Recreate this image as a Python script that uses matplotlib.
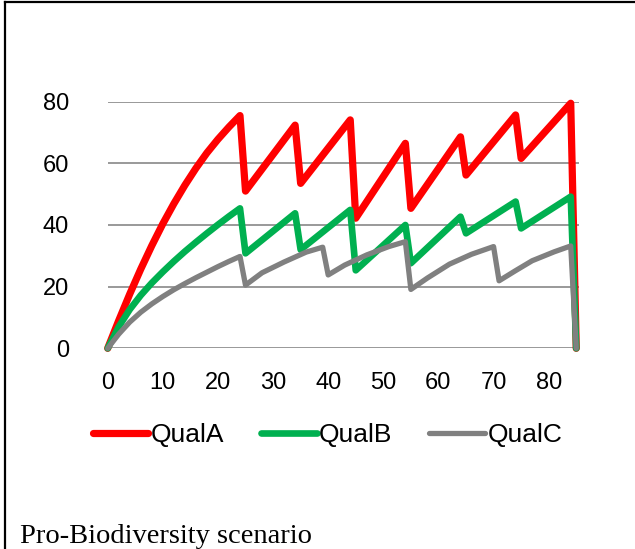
import matplotlib.pyplot as plt
from matplotlib.lines import Line2D

# values
years_a = [0, 2, 4, 6, 8, 10, 12, 14, 16, 18, 20, 22, 24, 25, 34, 35, 44, 45, 54, 55, 64, 65, 74, 75, 84, 85]
qual_a = [0, 9, 17.6, 25.7, 33.3, 40.4, 46.9, 52.9, 58.4, 63.4, 67.8, 71.8, 75.5, 51, 72.4, 53.5, 74.1, 42.2,
          66.5, 45.4, 68.6, 56.2, 75.7, 61.6, 79.5, 0]

years_b = [0, 2, 4, 6, 8, 10, 12, 14, 16, 18, 20, 22, 24, 25, 34, 35, 44, 45, 54, 55, 64, 65, 74, 75, 84, 85]
qual_b = [0, 7, 12.6, 17.2, 21.2, 24.8, 28.2, 31.4, 34.4, 37.3, 40.1, 42.8, 45.4, 30.8, 43.8, 32, 44.9, 25.3,
          40, 27.6, 42.7, 37.3, 47.6, 38.9, 49.2, 0]

years_c = [0, 2, 4, 6, 8, 10, 12, 14, 16, 18, 20, 22, 24, 25, 28, 32, 36, 39, 40, 43, 47, 51, 54,
           55, 58, 62, 66, 70, 71, 74, 77, 81, 84, 85]
qual_c = [0, 4.6, 8.5, 11.7, 14.4, 16.8, 19, 21, 22.9, 24.7, 26.5, 28.2, 29.8, 20.5, 24.5, 28, 31.2, 32.8,
          23.8, 27, 30.3, 33, 34.6, 19.1, 22.8, 27.3, 30.5, 33, 21.9, 25.2, 28.4, 31.3, 33.2, 0]

series = [("QualA", years_a, qual_a, "#FF0000", 5.2),
          ("QualB", years_b, qual_b, "#00B050", 4.8),
          ("QualC", years_c, qual_c, "#808080", 3.8)]

plt.rcParams['font.family'] = ['Liberation Sans', 'DejaVu Sans']

fig = plt.figure(figsize=(6.35, 5.49), dpi=100)
W, H = 635, 549
ax = fig.add_axes([107.7 / W, 1 - 348.3 / H, (579 - 107.7) / W, (348.3 - 101.7) / H])

for name, xs, ys, col, lw in series:
    ax.plot(xs, ys, color=col, lw=lw, label=name, clip_on=False,
            solid_joinstyle='round', solid_capstyle='round', zorder=3)

ax.set_xlim(0, 85.5)
ax.set_ylim(0, 80)
ax.set_xticks(range(0, 81, 10))
ax.set_yticks(range(0, 81, 20))
ax.tick_params(length=0, labelsize=17)
ax.tick_params(axis='y', pad=28)
ax.tick_params(axis='x', pad=17)
ax.grid(axis='y', color='#888888', lw=1.2)
ax.set_axisbelow(True)
for s in ax.spines.values():
    s.set_visible(False)

fig.legend(loc='center', bbox_to_anchor=(327.5 / W, 1 - 435 / H), ncol=3, frameon=False,
           fontsize=19, handlelength=2.1, handletextpad=0.1, columnspacing=1.4)

# frame around the chart
fig.add_artist(Line2D([5 / W, 1], [1 - 2 / H, 1 - 2 / H], color='black', lw=1.6))
fig.add_artist(Line2D([5 / W, 5 / W], [0, 1 - 2 / H], color='black', lw=1.6))

fig.text(20 / W, 1 - 543 / H, "Pro-Biodiversity scenario", fontsize=20.5,
         family=['Liberation Serif', 'DejaVu Serif'], va='baseline')

fig.savefig('out.png', dpi=100)
